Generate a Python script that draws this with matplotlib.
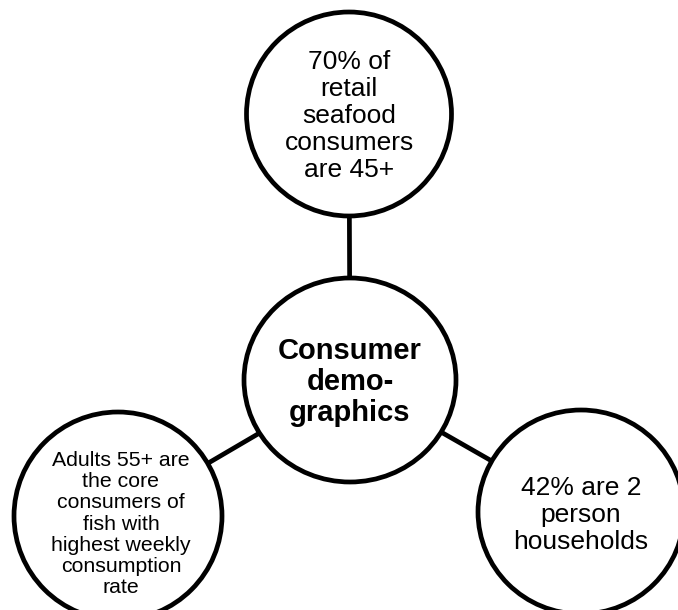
import matplotlib
matplotlib.use("Agg")
import matplotlib.pyplot as plt
from matplotlib.patches import Ellipse

# ---- data ----
center_label = "Consumer\ndemo-\ngraphics"
node_labels = [
    "70% of\nretail\nseafood\nconsumers\nare 45+",
    "Adults 55+ are\nthe core\nconsumers of\nfish with\nhighest weekly\nconsumption\nrate",
    "42% are 2\nperson\nhouseholds",
]

# ---- layout (pixel coordinates) ----
W, H = 678, 610
center_pos = (350, 380)
center_size = (212, 204)
node_pos = [(349, 114), (118, 516), (581, 512)]
node_size = [(205, 204), (208, 208), (206, 204)]
node_text_off = [(0, 2), (3, 8), (0, 3)]
node_fs = [19, 15.3, 19]
node_ls = [1.15, 1.14, 1.135]

plt.rcParams['font.family'] = ['Liberation Sans', 'DejaVu Sans']

fig = plt.figure(figsize=(W / 100, H / 100), dpi=100)
ax = fig.add_axes([0, 0, 1, 1])
ax.set_xlim(0, W)
ax.set_ylim(H, 0)
ax.axis('off')

lw = 3.4
for (x, y) in node_pos:
    ax.plot([center_pos[0], x], [center_pos[1], y], color='black', lw=lw,
            zorder=1, solid_capstyle='butt')

ax.add_patch(Ellipse(center_pos, center_size[0], center_size[1],
                     facecolor='white', edgecolor='black', lw=lw, zorder=2))
ax.text(center_pos[0], center_pos[1] + 2, center_label, ha='center', va='center',
        fontsize=21, fontweight='bold', linespacing=1.14, zorder=3)

for (x, y), (w, h), lab, fs, ls, (dx, dy) in zip(node_pos, node_size, node_labels,
                                                 node_fs, node_ls, node_text_off):
    ax.add_patch(Ellipse((x, y), w, h, facecolor='white', edgecolor='black',
                         lw=lw, zorder=2))
    ax.text(x + dx, y + dy, lab, ha='center', va='center', fontsize=fs,
            linespacing=ls, zorder=3)

fig.savefig('out.png', dpi=100)
